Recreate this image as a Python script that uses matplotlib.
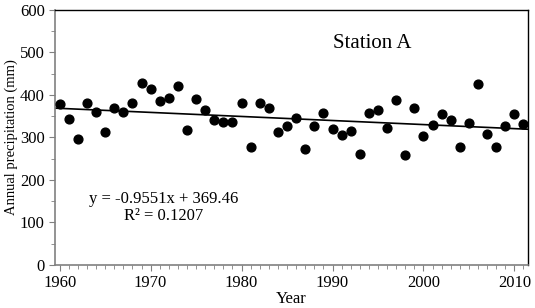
import numpy as np
import matplotlib
matplotlib.use("Agg")
import matplotlib.pyplot as plt
from matplotlib.ticker import MultipleLocator

plt.rcParams['font.family'] = ['Liberation Serif', 'DejaVu Serif']

# one value per year, 1960-2011
years = np.arange(1960, 2012)
values = [378, 344, 296, 382, 360, 313, 370, 361, 380, 428,
          415, 385, 392, 422, 318, 391, 365, 341, 336, 336,
          380, 277, 380, 369, 313, 328, 345, 273, 328, 358,
          321, 305, 315, 261, 358, 365, 322, 389, 259, 369,
          304, 329, 355, 341, 278, 335, 426, 309, 278, 326,
          355, 332]
y_ticks = [0, 100, 200, 300, 400, 500, 600]
x_ticks = [1960, 1970, 1980, 1990, 2000, 2010]

fig = plt.figure(figsize=(5.35, 3.08), dpi=100)
ax = fig.add_axes([0.103, 0.140, 0.884, 0.8275])

ax.scatter(years, values, s=40, color='black', zorder=3)

# linear trend (x as year index)
idx = years - 1959
m, b = np.polyfit(idx, values, 1)
pred = m * idx + b
r2 = 1 - np.sum((np.array(values) - pred) ** 2) / np.sum((np.array(values) - np.mean(values)) ** 2)
xl = np.array([1959.5, 2011.5])
ax.plot(xl, m * (xl - 1959) + b, color='black', lw=1.2, zorder=2)

ax.set_xlim(1959.5, 2011.5)
ax.set_ylim(0, 600)
ax.set_xticks(x_ticks)
ax.set_yticks(y_ticks)
ax.xaxis.set_minor_locator(MultipleLocator(1))
ax.yaxis.set_minor_locator(MultipleLocator(50))
ax.tick_params(which='both', direction='out', color='#808080', labelsize=12)
ax.tick_params(which='major', length=4)
ax.tick_params(which='minor', length=3)
for s in ['left', 'bottom']:
    ax.spines[s].set_color('#808080')
    ax.spines[s].set_linewidth(1.2)
for s in ['top', 'right']:
    ax.spines[s].set_color('black')
    ax.spines[s].set_linewidth(1.0)

ax.set_xlabel('Year', fontsize=12, labelpad=0)
ax.set_ylabel('Annual precipitation (mm)', fontsize=10.5, labelpad=1)

ax.text(0.23, 0.225, f'y = {m:.4f}x + {b:.2f}\nR² = {r2:.4f}',
        transform=ax.transAxes, ha='center', va='center', fontsize=12,
        linespacing=1.1)
ax.text(0.67, 0.87, 'Station A', transform=ax.transAxes,
        ha='center', va='center', fontsize=15)

fig.savefig('out.png', dpi=100)
